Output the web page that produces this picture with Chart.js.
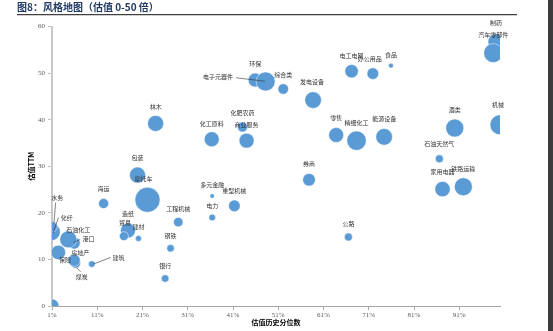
<!DOCTYPE html>
<html><head><meta charset="utf-8">
<script src="https://cdn.jsdelivr.net/npm/chart.js@4.4.1/dist/chart.umd.min.js"></script>
<style>
html,body{margin:0;padding:0;background:#fff;overflow:hidden}
#wrap{position:relative;width:553px;height:331px}
#bar{position:absolute;right:0;top:0;width:5px;height:331px;background:#3c3c3c}
</style></head><body>
<div id="wrap"><canvas id="c" width="553" height="331"></canvas><div id="bar"></div></div>
<script>
// ---- data ----
const industries = ['制药','汽车零部件','机械','酒类','食品','办公用品','电工电网','综合类','发电设备','环保','电子元器件','化肥农药','商业服务','化工原料','林木','零售','精细化工','能源设备','石油天然气','家用电器','铁路运输','券商','公路','包装','摩托车','海运','多元金融','重型机械','电力','工程机械','钢铁','银行','建筑','煤炭','房地产','保险','港口','石油化工','化纤','水务','造纸','贸易','建材',''];
const valuationPercentile = [99.1,98.5,100.0,90.0,75.9,71.9,67.2,52.1,58.7,45.9,48.2,43.1,44.0,36.3,23.9,63.8,68.3,74.4,86.6,87.3,91.9,57.8,66.5,19.9,22.1,12.4,36.4,41.3,36.4,28.9,27.2,26.0,9.8,6.2,5.9,2.4,5.9,4.6,0.9,1.1,17.8,16.9,20.1,1.0];
const peTTM = [56.7,54.3,38.9,38.2,51.6,49.9,50.4,46.6,44.2,48.5,48.2,38.4,35.5,35.8,39.2,36.7,35.5,36.3,31.6,25.1,25.6,27.1,14.8,28.1,22.8,22.0,23.6,21.5,19.0,18.0,12.4,5.9,9.0,9.2,9.8,11.5,13.5,14.3,15.9,17.0,16.2,15.0,14.5,0];
const bubbleSize = [64,90,100,81,6,34,45,28,69,49,90,25,56,56,64,56,94,69,16,59,81,40,16,64,156,25,5,34,11,22,14,14,11,25,36,52,36,72,76,25,56,20,9,49];
const xTickValues = [1,11,21,31,41,51,61,71,81,91];
const yTickValues = [0,10,20,30,40,50,60];

// ---- layout of labels (pixel offsets from bubble centre) ----
const labelOffsets = [[0,-19],[0,-18],[-2,-20],[0,-18],[0,-11],[-3,-15],[0,-16],[0,-14],[-1,-18],[0,-16],[-47.5,-4.4],[0,-14],[0,-16],[0,-16],[0,-17],[0,-17],[0,-18],[0,-18],[0,-15],[0,-17],[0,-18],[0,-16],[0,-13],[0,-17],[-4,-21],[0,-15],[0,-11],[0,-15],[0,-12],[0,-13],[0,-13],[0,-13],[26.6,-6.7],[6.2,13.5],[6,-7.2],[6.7,7.7],[14.3,-4],[10,-10],[15.2,-14.7],[4.8,-28.7],[0,-17],[1,-13],[0,-12],[0,0]];
const leaderLines = {
  '电子元器件':[[-29.5,-3.7],[-0.5,-0.2]],
  '建筑':[[1.6,0],[19,-6.7]],
  '港口':[[-0.7,-0.7],[6,-3.7]],
  '煤炭':[[1.2,4.7],[5.2,8.7]],
  '化纤':[[7,-14.5],[1.5,1]],
  '水务':[[3.2,-24.3],[1.5,-3.7]]
};

const points = valuationPercentile.map((v,i)=>({x:v, y:peTTM[i], r:Math.sqrt(bubbleSize[i])}));

const labelPlugin = {
  id:'bubbleLabels',
  afterDatasetsDraw(chart){
    const ctx = chart.ctx;
    const meta = chart.getDatasetMeta(0);
    ctx.save();
    ctx.strokeStyle = '#333';
    ctx.lineWidth = 0.6;
    meta.data.forEach((el,i)=>{
      const ln = leaderLines[industries[i]];
      if(!ln) return;
      ctx.beginPath();
      ctx.moveTo(el.x+ln[0][0], el.y+ln[0][1]);
      ctx.lineTo(el.x+ln[1][0], el.y+ln[1][1]);
      ctx.stroke();
    });
    ctx.font = '6px "Noto Sans CJK SC"';
    ctx.fillStyle = '#333';
    ctx.textAlign = 'center';
    ctx.textBaseline = 'middle';
    meta.data.forEach((el,i)=>{
      const name = industries[i];
      if(!name) return;
      const o = labelOffsets[i];
      ctx.fillText(name, el.x+o[0], el.y+o[1]);
    });
    ctx.restore();
  },
  afterDraw(chart){
    const ctx = chart.ctx;
    ctx.save();
    ctx.strokeStyle = '#404040';
    ctx.lineWidth = 1.3;
    ctx.beginPath();
    ctx.moveTo(17,14.7);
    ctx.lineTo(517,14.7);
    ctx.stroke();
    ctx.restore();
  }
};

new Chart(document.getElementById('c'), {
  type:'bubble',
  data:{datasets:[{
    data:points,
    backgroundColor:'#5B9BD5',
    borderColor:'rgba(255,255,255,0.8)',
    borderWidth:0.6,
    clip:0
  }]},
  options:{
    responsive:false,
    animation:false,
    devicePixelRatio:1,
    layout:{padding:{left:17,right:53,top:0,bottom:0}},
    plugins:{
      legend:{display:false},
      tooltip:{enabled:false},
      title:{
        display:true,
        text:'图8：风格地图（估值 0-50 倍）',
        align:'start',
        color:'#1F3864',
        font:{family:'"Noto Sans CJK SC"',size:10,weight:'bold',lineHeight:1.2},
        padding:{top:1.5,bottom:13}
      }
    },
    scales:{
      x:{
        type:'linear', min:1, max:100,
        afterBuildTicks:s=>{s.ticks = xTickValues.map(v=>({value:v}));},
        afterFit:s=>{s.height = 25;},
        ticks:{callback:v=>v+'%', color:'#595959', font:{family:'"Liberation Serif"',size:7}, padding:1, autoSkip:false, maxRotation:0},
        grid:{display:true, drawOnChartArea:false, drawTicks:true, tickLength:4, color:'#a6a6a6'},
        border:{display:true, color:'#a6a6a6', width:1},
        title:{display:true, text:'估值历史分位数', color:'#000', font:{family:'"Noto Sans CJK SC"',size:7,weight:'bold',lineHeight:1.2}, padding:{top:0,bottom:4.3}}
      },
      y:{
        type:'linear', min:0, max:60,
        afterBuildTicks:s=>{s.ticks = yTickValues.map(v=>({value:v}));},
        afterFit:s=>{s.width = 35;},
        ticks:{color:'#595959', font:{family:'"Liberation Serif"',size:7}, padding:3},
        grid:{display:true, drawOnChartArea:false, drawTicks:true, tickLength:4, color:'#bfbfbf'},
        border:{display:true, color:'#c8c8c8', width:2},
        title:{display:true, text:'估值TTM', color:'#000', font:{family:'"Noto Sans CJK SC"',size:7,weight:'bold',lineHeight:1.2}, padding:{top:10.3,bottom:0}}
      }
    }
  },
  plugins:[labelPlugin]
});
</script></body></html>
